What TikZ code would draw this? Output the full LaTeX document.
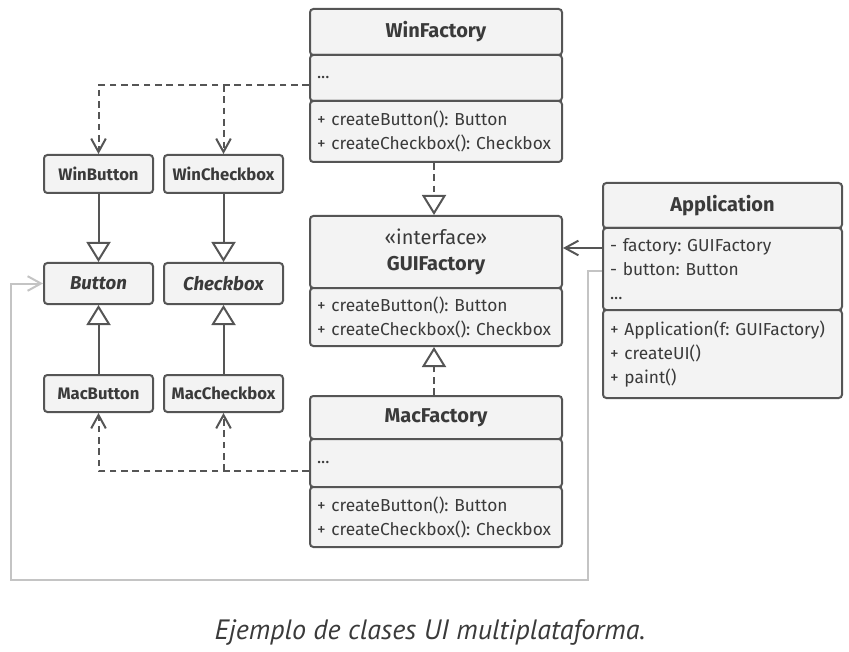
\documentclass[tikz,border=0pt]{standalone}
\usepackage{fontspec}
\setmainfont{Fira Sans}
\newfontfamily\captionfont{PT Sans}
\usetikzlibrary{arrows.meta,positioning}
\frenchspacing

\definecolor{umlline}{HTML}{555555}
\definecolor{umlfill}{HTML}{F3F3F3}
\definecolor{umltext}{HTML}{3A3A3A}
\definecolor{refline}{HTML}{C4C4C4}

\begin{document}
\begin{tikzpicture}[
x=0.75pt,y=-0.75pt,
part/.style={
  draw=umlline,
  fill=umlfill,
  line width=1.5pt,
  rounded corners=2.5pt,
  inner sep=0pt,
  anchor=north west,
  text=umltext
},
title/.style={
  part,
  minimum width=189pt,
  align=center,
  font=\fontsize{15}{20}\selectfont\bfseries
},
members/.style={
  part,
  align=left,
  inner xsep=5.25pt,
  text width=#1,
  font=\fontsize{13}{18}\selectfont
},
members/.default=178.5pt,
small/.style={
  part,
  font=\fontsize{12.5}{14}\selectfont\bfseries
},
abstr/.style={
  part,
  font=\fontsize{14}{16}\selectfont\bfseries\itshape
},
depend/.style={
  draw=umlline,
  line width=1.5pt,
  dash pattern=on 5pt off 3.5pt,
  -{Straight Barb[length=10pt,width=11pt,line width=1.5pt]}
},
inherit/.style={
  draw=umlline,
  line width=1.5pt,
  -{Triangle[open,length=15pt,width=18pt,line width=1.5pt,fill=white]}
},
realize/.style={
  inherit,
  dash pattern=on 5pt off 3.5pt
},
assoc/.style={
  draw=umlline,
  line width=1.5pt,
  -{Straight Barb[length=10pt,width=11pt,line width=1.5pt]}
},
refl/.style={
  draw=refline,
  line width=1.5pt,
  -{Straight Barb[length=10pt,width=11pt,line width=1.5pt]}
}
]
\useasboundingbox (0,0) rectangle (849,652);

% factories
\node[title,minimum height=34.5pt] (winH) at (309,8) {WinFactory};
\node[members,minimum height=34.5pt] (winA) at (309,54) {...};
\node[members,minimum height=45.75pt] (winM) at (309,100)
  {+ createButton(): Button\\+ createCheckbox(): Checkbox};

\node[title,minimum height=54pt] (guiH) at (309,215)
  {{\mdseries «interface»}\\GUIFactory};
\node[members,minimum height=43.5pt] (guiM) at (309,287)
  {+ createButton(): Button\\+ createCheckbox(): Checkbox};

\node[title,minimum height=32.25pt] (macH) at (309,395) {MacFactory};
\node[members,minimum height=36pt] (macA) at (309,438) {...};
\node[members,minimum height=45pt] (macM) at (309,486)
  {+ createButton(): Button\\+ createCheckbox(): Checkbox};

% client
\node[title,minimum width=179.25pt,minimum height=33.75pt] (appH) at (602,182) {Application};
\node[members=168.75pt,minimum height=61.5pt] (appA) at (602,227)
  {- factory: GUIFactory\\- button: Button\\...};
\node[members=168.75pt,minimum height=66pt] (appM) at (602,309)
  {+ Application(f: GUIFactory)\\+ createUI()\\+ paint()};

% products
\node[small,minimum width=81.75pt,minimum height=28.5pt] (winBtn) at (43,154) {WinButton};
\node[small,minimum width=89.25pt,minimum height=28.5pt] (winCb) at (163,154) {WinCheckbox};
\node[abstr,minimum width=81.75pt,minimum height=30.75pt] (btn) at (43,262) {Button};
\node[abstr,minimum width=89.25pt,minimum height=30.75pt] (cb) at (163,262) {Checkbox};
\node[small,minimum width=81.75pt,minimum height=27.75pt] (macBtn) at (43,374) {MacButton};
\node[small,minimum width=89.25pt,minimum height=27.75pt] (macCb) at (163,374) {MacCheckbox};

\coordinate (winSrc) at ([yshift=-5.25pt]winA.west);
\coordinate (macSrc) at ([yshift=-6pt]macA.west);
\coordinate (appF) at ([yshift=15.75pt]appA.west);
\coordinate (appB) at ([yshift=-1.5pt]appA.west);
\coordinate (turn) at (588,580);
\coordinate (lft) at (11,580);

\draw[depend] (winSrc) -| (winBtn.north);
\draw[depend] (winCb.north |- winSrc) -- (winCb.north);
\draw[depend] (macSrc) -| (macBtn.south);
\draw[depend] (macCb.south |- macSrc) -- (macCb.south);

\draw[inherit] (winBtn) -- (btn);
\draw[inherit] (winCb) -- (cb);
\draw[inherit] (macBtn) -- (btn);
\draw[inherit] (macCb) -- (cb);

\draw[realize] ([xshift=-1.5pt]winM.south) -- ([xshift=-1.5pt]guiH.north);
\draw[realize] ([xshift=-1.5pt]macH.north) -- ([xshift=-1.5pt]guiM.south);

\draw[assoc] (appF) -- (appF -| guiH.east);
\draw[refl] (appB) -| (turn) -| (btn.west -| lft) -- (btn.west);

\node[text=umltext,font=\captionfont\fontsize{21}{24}\selectfont\itshape] (caption) at (430,632)
  {Ejemplo de clases UI multiplataforma.};
\end{tikzpicture}
\end{document}
